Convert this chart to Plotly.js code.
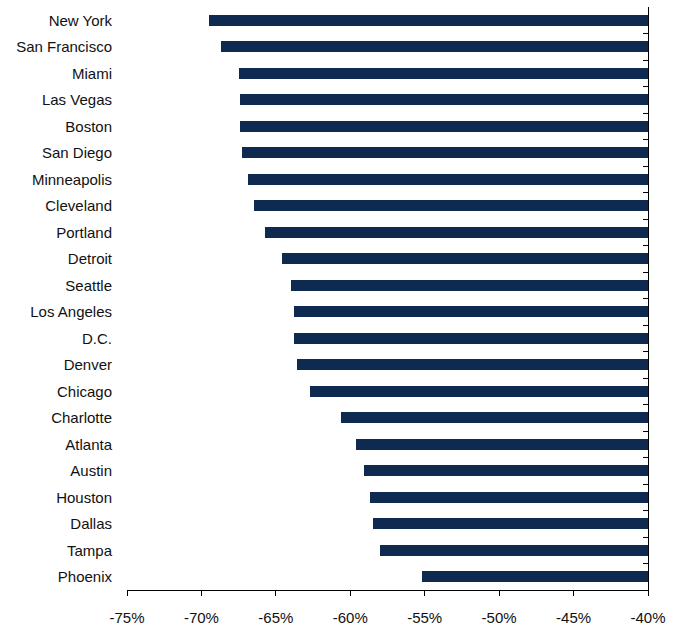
<!DOCTYPE html>
<html>
<head>
<meta charset="utf-8">
<script src="https://cdn.plot.ly/plotly-3.0.1.min.js"></script>
<style>
  html, body { margin: 0; padding: 0; background: #fff; }
  #graph { width: 681px; height: 627px; }
</style>
</head>
<body>
<div id="graph"></div>
<script>
// cities, top to bottom
var cities = ['New York', 'San Francisco', 'Miami', 'Las Vegas', 'Boston', 'San Diego',
    'Minneapolis', 'Cleveland', 'Portland', 'Detroit', 'Seattle', 'Los Angeles', 'D.C.',
    'Denver', 'Chicago', 'Charlotte', 'Atlanta', 'Austin', 'Houston', 'Dallas', 'Tampa', 'Phoenix'];

// % change
var change = [-69.5, -68.7, -67.5, -67.4, -67.4, -67.3,
    -66.9, -66.5, -65.7, -64.6, -64.0, -63.8, -63.8,
    -63.6, -62.7, -60.6, -59.6, -59.1, -58.7, -58.5, -58.0, -55.2];

var tickVals = [-75, -70, -65, -60, -55, -50, -45, -40];
var tickText = ['-75%', '-70%', '-65%', '-60%', '-55%', '-50%', '-45%', '-40%'];

var baseline = -40;
var navy = '#0e2a50';
var font = 'Liberation Sans Narrow, Arial Narrow, Liberation Sans, Arial, sans-serif';

function graphplot() {
    var lengths = change.map(function (v) { return v - baseline; });

    var bars = {
        type: 'bar',
        orientation: 'h',
        y: cities,
        x: lengths,
        base: baseline,
        width: 0.4,
        marker: { color: navy, line: { width: 0 } },
        xaxis: 'x',
        yaxis: 'y',
        showlegend: false,
        hoverinfo: 'skip'
    };

    // same categories on a second axis, only to draw the right hand line with its ticks
    var ghost = {
        type: 'bar',
        orientation: 'h',
        y: cities,
        x: lengths,
        base: baseline,
        width: 0.4,
        marker: { color: 'rgba(0,0,0,0)' },
        xaxis: 'x',
        yaxis: 'y2',
        showlegend: false,
        hoverinfo: 'skip'
    };

    var frame = {
        width: 681,
        height: 627,
        margin: { l: 127, r: 33, t: 7, b: 37 },
        paper_bgcolor: '#fff',
        plot_bgcolor: '#fff',
        bargap: 0,
        font: { family: font, size: 15, color: '#111' },
        xaxis: {
            range: [-75, -40],
            tickvals: tickVals,
            ticktext: tickText,
            showgrid: false,
            zeroline: false,
            showline: true,
            linecolor: '#000',
            linewidth: 1,
            ticks: 'outside',
            ticklen: 5,
            tickcolor: '#000',
            ticklabelstandoff: 9
        },
        yaxis: {
            type: 'category',
            categoryorder: 'array',
            categoryarray: cities,
            autorange: 'reversed',
            showgrid: false,
            zeroline: false,
            showline: false,
            ticks: '',
            ticklabelstandoff: 14
        },
        yaxis2: {
            type: 'category',
            categoryorder: 'array',
            categoryarray: cities,
            autorange: 'reversed',
            overlaying: 'y',
            side: 'right',
            showgrid: false,
            zeroline: false,
            showline: true,
            linecolor: '#000',
            linewidth: 1,
            ticks: 'inside',
            tickson: 'boundaries',
            ticklen: 5,
            tickcolor: '#000',
            showticklabels: false
        }
    };

    Plotly.newPlot('graph', [bars, ghost], frame, { displayModeBar: false, staticPlot: true });
}

graphplot();
</script>
</body>
</html>
